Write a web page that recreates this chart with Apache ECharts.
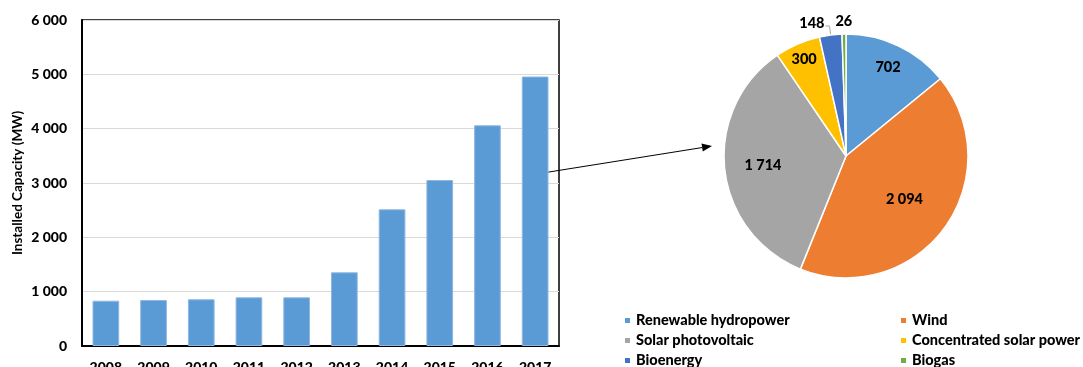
<!DOCTYPE html>
<html>
<head>
<meta charset="utf-8">
<script src="https://cdn.jsdelivr.net/npm/echarts@6/dist/echarts.min.js"></script>
<style>
  html, body { margin: 0; padding: 0; background: #fff; }
  #chart { width: 1083px; height: 367px; }
</style>
</head>
<body>
<div id="chart"></div>
<script>
// Installed renewable capacity by year (MW)
const years = ['2008', '2009', '2010', '2011', '2012', '2013', '2014', '2015', '2016', '2017'];
const capacity = [834, 847, 860, 896, 896, 1356, 2516, 3055, 4062, 4960];

// 2017 breakdown by source (MW)
const sources = ['Renewable hydropower', 'Wind', 'Solar photovoltaic', 'Concentrated solar power', 'Bioenergy', 'Biogas'];
const sourceValues = [702, 2094, 1714, 300, 148, 26];

// Styling
const FONT = 'Lato, "Liberation Sans", Arial, sans-serif';
const HEAVY = 900;
const sourceColors = ['#5b9bd5', '#ed7d31', '#a5a5a5', '#ffc000', '#4472c4', '#70ad47'];
const PIE_CENTER = [846, 156];
const PIE_R = 122;
// radial placement of each slice label, as a fraction of the radius
const labelRadius = [0.78, 0.57, 0.66, 0.84, null, 1.08];

const fmtThousands = v => String(v).replace(/\B(?=(\d{3})+(?!\d))/g, ' ');

const total = sourceValues.reduce((a, b) => a + b, 0);
let cum = 0;
const pieData = sources.map((name, i) => {
  const v = sourceValues[i];
  const mid = (cum + v / 2) / total * 2 * Math.PI; // clockwise from 12 o'clock
  cum += v;
  const item = { name, value: v, itemStyle: { color: sourceColors[i] } };
  if (labelRadius[i] !== null) {
    const d = (labelRadius[i] - 0.5) * PIE_R;
    item.label = { position: 'inside', offset: [d * Math.sin(mid), -d * Math.cos(mid)] };
    item.labelLine = { show: false };
  } else {
    item.label = { position: 'outside', offset: [4, -3] };
    item.labelLine = { show: true, length: 9, length2: 4, lineStyle: { color: '#a6a6a6', width: 1 } };
  }
  return item;
});

const chart = echarts.init(document.getElementById('chart'), null, { renderer: 'canvas' });

const legendText = { fontFamily: FONT, fontSize: 14.5, fontWeight: HEAVY, color: '#000', lineHeight: 13 };
const legendBase = {
  orient: 'vertical', top: 313, padding: 0, height: 60,
  itemWidth: 7, itemHeight: 7, itemGap: 5, icon: 'rect',
  textStyle: legendText, selectedMode: false
};

chart.setOption({
  animation: false,
  textStyle: { fontFamily: FONT },
  grid: {
    left: 82, top: 20, right: 524, bottom: 21,
    outerBoundsMode: 'none',
    show: true, borderColor: '#000', borderWidth: 1.5, backgroundColor: 'transparent'
  },
  xAxis: {
    type: 'category',
    data: years,
    axisTick: { show: false },
    axisLine: { lineStyle: { color: '#000', width: 2 } },
    axisLabel: { color: '#000', fontWeight: HEAVY, fontSize: 14, margin: 14, fontFamily: FONT }
  },
  yAxis: {
    type: 'value',
    min: 0, max: 6000, interval: 1000,
    name: 'Installed Capacity (MW)',
    nameLocation: 'middle',
    nameGap: 57,
    nameTextStyle: { color: '#000', fontSize: 13.5, fontWeight: 'bold', fontFamily: FONT },
    axisLine: { show: true, lineStyle: { color: '#000', width: 2 } },
    axisTick: { show: false },
    splitLine: { lineStyle: { color: '#d9d9d9', width: 1 } },
    axisLabel: { color: '#000', fontWeight: HEAVY, fontSize: 14, margin: 15, fontFamily: FONT, formatter: fmtThousands }
  },
  legend: [
    Object.assign({ data: [sources[0], sources[2], sources[4]], left: 623 }, legendBase),
    Object.assign({ data: [sources[1], sources[3], sources[5]], left: 899 }, legendBase)
  ],
  series: [
    {
      type: 'bar',
      data: capacity,
      barWidth: '56%',
      itemStyle: { color: '#5b9bd5', borderColor: '#8fb8e2', borderWidth: 1 }
    },
    {
      type: 'pie',
      center: PIE_CENTER,
      radius: PIE_R,
      startAngle: 90,
      clockwise: true,
      avoidLabelOverlap: false,
      data: pieData,
      itemStyle: { borderColor: '#fff', borderWidth: 1.5 },
      label: {
        color: '#000', fontWeight: HEAVY, fontSize: 14.5, fontFamily: FONT,
        formatter: p => fmtThousands(p.value)
      },
      emphasis: { disabled: true }
    }
  ]
});

// Arrow pointing from the 2017 bar to the breakdown pie
const barW = 26;
const start = chart.convertToPixel({ gridIndex: 0 }, [years.length - 1, 3200]);
const x1 = start[0] + barW / 2, y1 = start[1];
const x2 = PIE_CENTER[0] - PIE_R - 12, y2 = PIE_CENTER[1] - 10;
const ang = Math.atan2(y2 - y1, x2 - x1);
const headLen = 10, headHalf = 4;
const bx = x2 - headLen * Math.cos(ang), by = y2 - headLen * Math.sin(ang);
chart.setOption({
  graphic: [
    { type: 'line', shape: { x1, y1, x2: bx, y2: by }, style: { stroke: '#000', lineWidth: 1 }, silent: true },
    {
      type: 'polygon', silent: true,
      shape: { points: [
        [x2, y2],
        [bx + headHalf * Math.sin(ang), by - headHalf * Math.cos(ang)],
        [bx - headHalf * Math.sin(ang), by + headHalf * Math.cos(ang)]
      ] },
      style: { fill: '#000' }
    }
  ]
});
</script>
</body>
</html>
